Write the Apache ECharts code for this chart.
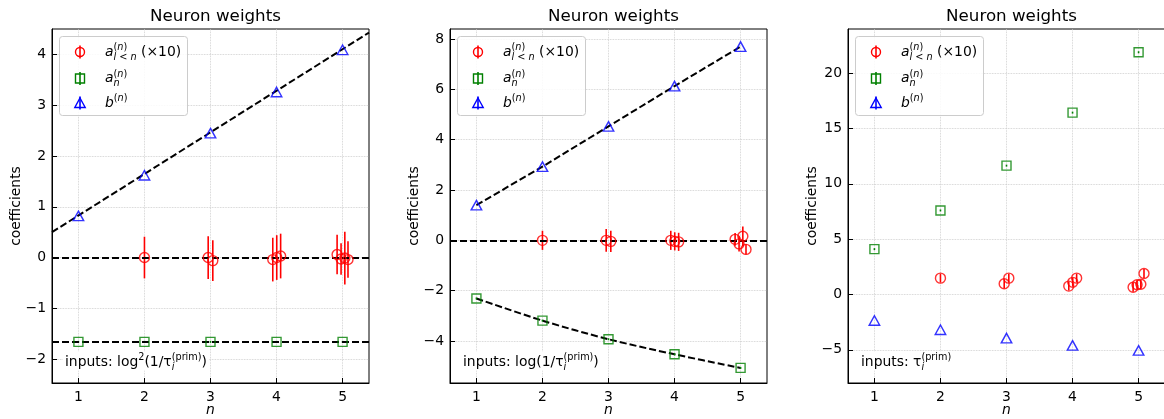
<!DOCTYPE html>
<html>
<head>
<meta charset="utf-8">
<script src="https://cdn.jsdelivr.net/npm/echarts@6/dist/echarts.min.js"></script>
<style>
  html, body { margin: 0; padding: 0; background: #fff; }
  #chart { width: 1164px; height: 419px; }
</style>
</head>
<body>
<div id="chart"></div>
<script>
// ---- data ----
const nValues = [1, 2, 3, 4, 5];
const xTicks = [1, 2, 3, 4, 5];
// x positions of the a_{l<n} points (slightly spread around each n)
const alX = [2.0, 2.965, 3.035, 3.943, 4.003, 4.062, 4.917, 4.977, 5.034, 5.082];

// panel 1: inputs log^2(1/tau)
const p1YTicks = [-2, -1, 0, 1, 2, 3, 4];
const p1Al = [0.0, 0.0, -0.06, -0.04, 0.0, 0.03, 0.06, -0.03, -0.01, -0.04];
const p1AlErr = [0.41, 0.42, 0.40, 0.43, 0.44, 0.44, 0.39, 0.31, 0.52, 0.36];
const p1An = [-1.66, -1.66, -1.66, -1.66, -1.66];
const p1AnErr = [0.02, 0.02, 0.02, 0.02, 0.02];
const p1B = [0.82, 1.62, 2.45, 3.26, 4.09];
const p1BFit = [[0.6, 0.50], [5.4, 4.43]];
const p1Levels = [0, -1.66];

// panel 2: inputs log(1/tau)
const p2YTicks = [-4, -2, 0, 2, 4, 6, 8];
const p2Al = [0.0, 0.0, -0.04, 0.0, -0.04, -0.06, 0.04, -0.14, 0.16, -0.36];
const p2AlErr = [0.38, 0.45, 0.42, 0.38, 0.36, 0.36, 0.25, 0.30, 0.39, 0.20];
const p2An = [-2.31, -3.19, -3.93, -4.53, -5.07];
const p2AnErr = [0.04, 0.04, 0.04, 0.04, 0.04];
const p2B = [1.40, 2.93, 4.53, 6.13, 7.70];
const p2Levels = [0];

// panel 3: inputs tau
const p3YTicks = [-5, 0, 5, 10, 15, 20];
const p3Al = [1.48, 0.97, 1.48, 0.76, 1.10, 1.48, 0.65, 0.88, 0.92, 1.90];
const p3AlErr = [0.4, 0.4, 0.4, 0.4, 0.4, 0.4, 0.4, 0.4, 0.4, 0.4];
const p3An = [4.10, 7.60, 11.65, 16.44, 21.90];
const p3AnErr = [0.09, 0.09, 0.09, 0.09, 0.09];
const p3B = [-2.35, -3.19, -3.94, -4.60, -5.05];

// ---- styling / layout ----
const FONT = '"DejaVu Sans"';
const FS = 13.9;          // labels, legend
const SS = 9.7;           // super/subscripts
const TITLE_FS = 16.7;
const RED = '#ff0000', GREEN = '#008000', BLUE = '#0000ff';
const DASH = [7, 3];
const PLOT_TOP = 29, PLOT_H = 354, PLOT_W = 317;
const PLOT_LEFTS = [52, 450, 848];

const panels = [
  { yMin: -2.47, yMax: 4.5, yTicks: p1YTicks, al: p1Al, alErr: p1AlErr, an: p1An, anErr: p1AnErr, b: p1B,
    bLine: p1BFit, anLine: null, levels: p1Levels, input: 'log2' },
  { yMin: -5.67, yMax: 8.4, yTicks: p2YTicks, al: p2Al, alErr: p2AlErr, an: p2An, anErr: p2AnErr, b: p2B,
    bLine: nValues.map((n, i) => [n, p2B[i]]), anLine: nValues.map((n, i) => [n, p2An[i]]), levels: p2Levels, input: 'log' },
  { yMin: -8, yMax: 24, yTicks: p3YTicks, al: p3Al, alErr: p3AlErr, an: p3An, anErr: p3AnErr, b: p3B,
    bLine: null, anLine: null, levels: [], input: 'tau' }
];

const minus = v => String(v).replace('-', '\u2212');

function errRenderer(color) {
  return function (params, api) {
    const x = api.value(0), y = api.value(1), e = api.value(2);
    const p1 = api.coord([x, y - e]);
    const p2 = api.coord([x, y + e]);
    return {
      type: 'line',
      shape: { x1: p1[0], y1: p1[1], x2: p2[0], y2: p2[1] },
      style: { stroke: color, lineWidth: 1.6 }
    };
  };
}

const grids = [], xAxes = [], yAxes = [], series = [], titles = [];

panels.forEach((p, i) => {
  grids.push({ left: PLOT_LEFTS[i], top: PLOT_TOP, width: PLOT_W, height: PLOT_H,
    outerBoundsMode: 'none', containLabel: false,
    show: true, borderColor: '#000', borderWidth: 1, backgroundColor: '#fff' });
  titles.push({ text: 'Neuron weights', left: PLOT_LEFTS[i] + PLOT_W / 2, top: 3, textAlign: 'center',
    textStyle: { fontFamily: FONT, fontSize: TITLE_FS, fontWeight: 'normal', color: '#000' } });
  xAxes.push({
    type: 'value', gridIndex: i, min: 0.6, max: 5.4,
    name: 'n', nameLocation: 'middle', nameGap: 20, nameMoveOverlap: false,
    nameTextStyle: { fontFamily: FONT, fontStyle: 'italic', fontSize: FS, color: '#000' },
    axisLine: { show: true, onZero: false, lineStyle: { color: '#000', width: 1 } },
    axisTick: { show: true, inside: true, length: 5, customValues: xTicks, lineStyle: { color: '#000' } },
    axisLabel: { customValues: xTicks, fontFamily: FONT, fontSize: FS, color: '#000', margin: 7, formatter: minus },
    splitLine: { show: true, lineStyle: { color: '#c8c8c8', type: 'dotted', width: 0.8 } }
  });
  yAxes.push({
    type: 'value', gridIndex: i, min: p.yMin, max: p.yMax,
    name: 'coefficients', nameLocation: 'middle', nameGap: 29, nameMoveOverlap: false,
    nameTextStyle: { fontFamily: FONT, fontSize: FS, color: '#000' },
    axisLine: { show: true, onZero: false, lineStyle: { color: '#000', width: 1 } },
    axisTick: { show: true, inside: true, length: 5, customValues: p.yTicks, lineStyle: { color: '#000' } },
    axisLabel: { customValues: p.yTicks, fontFamily: FONT, fontSize: FS, color: '#000', margin: 6, formatter: minus },
    splitLine: { show: true, lineStyle: { color: '#c8c8c8', type: 'dotted', width: 0.8 } }
  });

  const dashed = { color: '#000', width: 2, type: DASH };
  // reference levels spanning the full width
  series.push({
    type: 'line', xAxisIndex: i, yAxisIndex: i, data: [], silent: true, z: 3,
    markLine: {
      silent: true, symbol: ['none', 'none'], label: { show: false },
      lineStyle: dashed, animation: false,
      data: p.levels.map(v => ({ yAxis: v }))
    }
  });
  if (p.bLine) series.push({ type: 'line', xAxisIndex: i, yAxisIndex: i, data: p.bLine, showSymbol: false,
    lineStyle: dashed, silent: true, z: 3 });
  if (p.anLine) series.push({ type: 'line', xAxisIndex: i, yAxisIndex: i, data: p.anLine, showSymbol: false,
    smooth: 0.3, lineStyle: dashed, silent: true, z: 3 });

  // error bars
  series.push({ type: 'custom', xAxisIndex: i, yAxisIndex: i, z: 4, silent: true,
    renderItem: errRenderer(RED), data: alX.map((x, k) => [x, p.al[k], p.alErr[k]]) });
  series.push({ type: 'custom', xAxisIndex: i, yAxisIndex: i, z: 4, silent: true,
    renderItem: errRenderer(GREEN), data: nValues.map((n, k) => [n, p.an[k], p.anErr[k]]) });

  // markers
  const open = c => ({ color: 'rgba(0,0,0,0)', borderColor: c, borderWidth: 1.4 });
  series.push({ type: 'scatter', xAxisIndex: i, yAxisIndex: i, z: 5, symbol: 'circle', symbolSize: 10,
    itemStyle: open(RED), data: alX.map((x, k) => [x, p.al[k]]) });
  series.push({ type: 'scatter', xAxisIndex: i, yAxisIndex: i, z: 5, symbol: 'rect', symbolSize: 9,
    itemStyle: open(GREEN), data: nValues.map((n, k) => [n, p.an[k]]) });
  series.push({ type: 'scatter', xAxisIndex: i, yAxisIndex: i, z: 5, symbol: 'triangle', symbolSize: [10.5, 9.5],
    itemStyle: open(BLUE), data: nValues.map((n, k) => [n, p.b[k]]) });
});

// ---- text with super/subscripts ----
const mctx = document.createElement('canvas').getContext('2d');
function textW(t, size, italic) {
  mctx.font = (italic ? 'italic ' : '') + size + 'px ' + FONT;
  return mctx.measureText(t).width;
}
const SUP = -0.42 * FS, SUB = 0.27 * FS;
function layText(x, baseline, items, els) {
  let cx = x;
  const put = (p, px) => {
    els.push({
      type: 'text', z: 101, x: px, y: baseline + (p.dy || 0) - 0.30 * p.s, silent: true,
      style: { text: p.t, font: (p.it ? 'italic ' : '') + p.s + 'px ' + FONT, fill: '#000',
        align: 'left', verticalAlign: 'middle' }
    });
    return textW(p.t, p.s, p.it);
  };
  items.forEach(it => {
    if (it.stack) {
      let w = 0;
      it.stack.forEach(row => {
        let rx = cx;
        row.forEach(p => { rx += put(p, rx); });
        w = Math.max(w, rx - cx);
      });
      cx += w;
    } else {
      cx += put(it, cx);
    }
  });
  return cx;
}
const supN = [{ t: '(', s: SS, dy: SUP }, { t: 'n', s: SS, it: true, dy: SUP }, { t: ')', s: SS, dy: SUP }];
const legendLabels = [
  [{ t: 'a', s: FS, it: true },
   { stack: [supN, [{ t: 'l', s: SS, it: true, dy: SUB }, { t: ' < ', s: SS, dy: SUB }, { t: 'n', s: SS, it: true, dy: SUB }]] },
   { t: ' (\u00d710)', s: FS }],
  [{ t: 'a', s: FS, it: true }, { stack: [supN, [{ t: 'n', s: SS, it: true, dy: SUB }]] }],
  [{ t: 'b', s: FS, it: true }, { stack: [supN] }]
];
const supPrim = [{ t: '(prim)', s: SS, dy: SUP }];
const subI = [{ t: 'i', s: SS, it: true, dy: SUB }];
const inputLabels = {
  log2: [{ t: 'inputs: log', s: FS }, { t: '2', s: SS, dy: SUP }, { t: '(1/\u03c4', s: FS },
         { stack: [supPrim, subI] }, { t: ')', s: FS }],
  log: [{ t: 'inputs: log(1/\u03c4', s: FS }, { stack: [supPrim, subI] }, { t: ')', s: FS }],
  tau: [{ t: 'inputs: \u03c4', s: FS }, { stack: [supPrim, subI] }]
};

const graphics = [];
panels.forEach((p, i) => {
  const L = PLOT_LEFTS[i];
  // legend frame
  graphics.push({ type: 'rect', z: 100, silent: true,
    shape: { x: L + 7.5, y: 36.5, width: 128, height: 79, r: 3 },
    style: { fill: 'rgba(255,255,255,0.85)', stroke: '#cccccc', lineWidth: 1 } });
  const rows = [52, 78.5, 103];
  const mx = L + 28;
  const cols = [RED, GREEN, BLUE];
  rows.forEach((ry, r) => {
    graphics.push({ type: 'line', z: 101, silent: true, shape: { x1: mx, y1: ry - 6.5, x2: mx, y2: ry + 6.5 },
      style: { stroke: cols[r], lineWidth: 1.6 } });
    if (r === 0) graphics.push({ type: 'circle', z: 101, silent: true, shape: { cx: mx, cy: ry, r: 4.5 },
      style: { fill: 'none', stroke: RED, lineWidth: 1.4 } });
    if (r === 1) graphics.push({ type: 'rect', z: 101, silent: true, shape: { x: mx - 4.5, y: ry - 4.5, width: 9, height: 9 },
      style: { fill: 'none', stroke: GREEN, lineWidth: 1.4 } });
    if (r === 2) graphics.push({ type: 'polygon', z: 101, silent: true,
      shape: { points: [[mx, ry - 5], [mx + 5.2, ry + 4.5], [mx - 5.2, ry + 4.5]] },
      style: { fill: 'none', stroke: BLUE, lineWidth: 1.4 } });
    layText(L + 53, ry + 4.5, legendLabels[r], graphics);
  });
  // inputs note with white backing
  const tmp = [];
  const end = layText(L + 13, 366.5, inputLabels[p.input], tmp);
  graphics.push({ type: 'rect', z: 100, silent: true,
    shape: { x: L + 11, y: 351.5, width: end - L - 9, height: 19 },
    style: { fill: '#fff' } });
  tmp.forEach(t => graphics.push(t));
});

const chart = echarts.init(document.getElementById('chart'), null, { renderer: 'canvas' });
chart.setOption({
  animation: false,
  backgroundColor: '#fff',
  textStyle: { fontFamily: FONT },
  title: titles,
  grid: grids,
  xAxis: xAxes,
  yAxis: yAxes,
  series: series,
  graphic: { elements: graphics }
});
</script>
</body>
</html>
